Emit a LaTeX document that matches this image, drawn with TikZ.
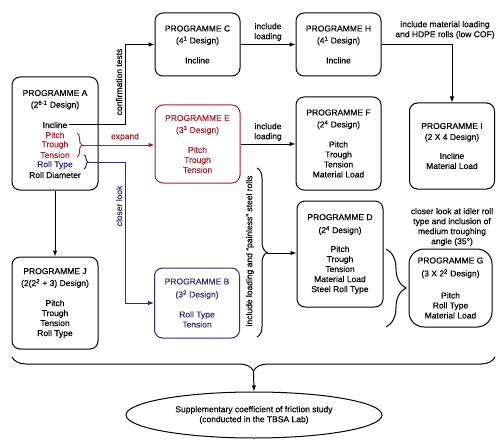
\documentclass[tikz,border=0pt]{standalone}
\usepackage{fontspec}
\setmainfont{Liberation Sans}[FakeBold=0.35]
\usetikzlibrary{shapes.geometric,decorations.pathreplacing,arrows.meta}
\definecolor{progred}{RGB}{165,35,40}
\definecolor{progblue}{RGB}{45,45,120}

\begin{document}
\begin{tikzpicture}[x=1pt, y=-1pt, line width=1pt,
  font=\fontsize{8.5}{10}\selectfont,
  prog/.style={draw, rounded corners=8pt, align=center, inner sep=0pt},
  lbl/.style={align=center, inner sep=1pt},
  arr/.style={-{Latex[length=6pt,width=4.5pt]}},
  brc/.style={decorate, decoration={brace, amplitude=#1}}]
  \useasboundingbox (0,0) rectangle (504,444);
  \coordinate (trunk) at (125,0);
  % ---- programme A, line by line ----
  \node[prog, minimum width=86pt, minimum height=113pt] (A) at (55,133.5) {};
  \node[lbl] (aTitle) at (55,93) {PROGRAMME A};
  \node[lbl] (aDesign) at (55,105) {(2\textsuperscript{6-1} Design)};
  \node[lbl] (aIncline) at (55,125) {Incline};
  \node[lbl, progred] (aPitch) at (55,135) {Pitch};
  \node[lbl, progred] (aTrough) at (55,145) {Trough};
  \node[lbl, progred] (aTension) at (55,155) {Tension};
  \node[lbl, progblue] (aRoll) at (55,165) {Roll Type};
  \node[lbl] (aDiam) at (55,175) {Roll Diameter};
  % ---- the other programmes ----
  \node[prog, minimum width=85pt, minimum height=63pt] (C) at (197.5,44.5)
    {PROGRAMME C\\[2pt](4\textsuperscript{1} Design)\\[10pt]Incline};
  \node[prog, minimum width=85pt, minimum height=63pt] (H) at (338.5,44.5)
    {PROGRAMME H\\[2pt](4\textsuperscript{1} Design)\\[10pt]Incline};
  \node[prog, minimum width=85pt, minimum height=86pt] (I) at (452,146)
    {PROGRAMME I\\[1pt](2 X 4 Design)\\[9pt]Incline\\Material Load};
  \node[prog, progred, minimum width=85pt, minimum height=78pt] (E) at (197.5,144)
    {PROGRAMME E\\[2pt](3\textsuperscript{3} Design)\\[10pt]Pitch\\Trough\\Tension};
  \node[prog, minimum width=85pt, minimum height=93pt] (F) at (338.5,143.5)
    {PROGRAMME F\\[2pt](2\textsuperscript{4} Design)\\[10pt]Pitch\\Trough\\Tension\\Material Load};
  \node[prog, minimum width=86pt, minimum height=106pt] (D) at (340,254)
    {PROGRAMME D\\[3pt](2\textsuperscript{4} Design)\\[9pt]Pitch\\Trough\\Tension\\Material Load\\Steel Roll Type};
  \node[prog, rounded corners=15pt, minimum width=83pt, minimum height=78pt] (G) at (450.5,288)
    {PROGRAMME G\\[3pt](3 X 2\textsuperscript{2}\ Design)\\[12pt]Pitch\\Roll Type\\Material Load};
  \node[prog, progblue, minimum width=85pt, minimum height=70pt] (B) at (197,303)
    {PROGRAMME B\\[3pt](3\textsuperscript{2} Design)\\[10pt]Roll Type\\Tension};
  \node[prog, minimum width=86pt, minimum height=92pt] (J) at (55,303)
    {PROGRAMME J\\[2pt](2(2\textsuperscript{2} + 3) Design)\\[10pt]Pitch\\Trough\\Tension\\Roll Type};
  \node[draw, ellipse, align=center, inner sep=0pt, minimum width=256pt, minimum height=46pt] (lab) at (254,415)
    {Supplementary coefficient of friction study\\(conducted in the TBSA Lab)};
  % ---- braces ----
  \draw[progred, brc=5pt] (77,133) -- (77,157);
  \coordinate (redTip) at (82,145);
  \draw[progblue, brc=4pt] (84,155) -- (84,169);
  \coordinate (blueTip) at (88,162);
  \draw[brc=10pt] (257,168) -- (257,337);
  \coordinate (loadTip) at (267,253);
  \draw[brc=20pt] (386,249) -- (386,327);
  \draw[brc=14pt] (495,357) -- (12,357);
  \coordinate (botTip) at (253.5,371);
  % ---- connectors ----
  \draw[arr] (aIncline.east) -- (aIncline.east -| trunk) |- (C.west);
  \draw[arr, progred] (redTip) -- (redTip -| E.west);
  \draw[arr, progblue] (blueTip) -- (blueTip -| trunk) |- (B.west);
  \draw[arr] (A) -- (J);
  \draw[arr] (C) -- (H);
  \draw[arr] (H.east) -| (I.north);
  \draw[arr] (E.east) -- (E.east -| F.west);
  \draw[arr] (loadTip) -- (loadTip -| D.west);
  \draw[arr] (botTip) -- (lab.north);
  % ---- labels ----
  \node[lbl, rotate=90] (confLbl) at (119,82) {confirmation tests};
  \node[lbl, progred] (expLbl) at (125,137) {expand};
  \node[lbl, progblue, rotate=90] (closeLbl) at (119,206) {closer look};
  \node[lbl] (loadLblC) at (268,32) {include\\loading};
  \node[lbl] (loadLblE) at (268,132) {include\\loading};
  \node[lbl] (hdpeLbl) at (445,30) {include material loading\\and HDPE rolls (low COF)};
  \node[lbl, rotate=90] (steelLbl) at (250,251) {include loading and ``painless'' steel rolls};
  \node[lbl] (idlerLbl) at (452,227) {closer look at idler roll\\type and inclusion of\\medium troughing\\angle (35°)};
\end{tikzpicture}
\end{document}
